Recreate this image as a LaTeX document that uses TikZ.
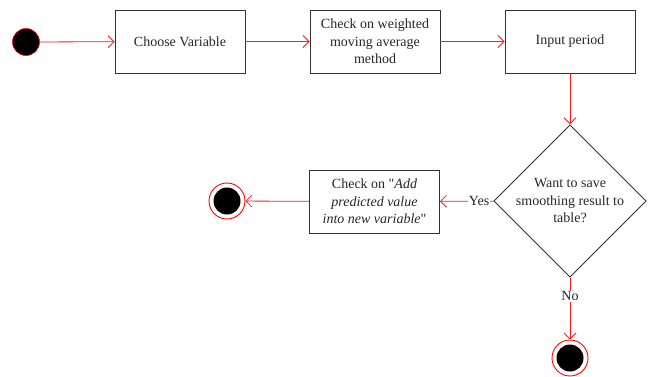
\documentclass[tikz,border=0pt]{standalone}
\usepackage{fontspec}
\setmainfont{Liberation Serif}
\newfontfamily\tms{Liberation Serif}
\usetikzlibrary{shapes.geometric,arrows.meta}
\begin{document}
\begin{tikzpicture}[x=1pt,y=-1pt,
  font=\tms\fontsize{14}{17.5}\selectfont,
  box/.style={draw=black!80,line width=0.9pt,rectangle,minimum width=130pt,minimum height=63pt,align=center,inner sep=2pt,text=black!85},
  dec/.style={draw=black!80,line width=0.9pt,diamond,minimum width=148pt,minimum height=144pt,align=center,inner sep=0pt,text=black!85},
  flow/.style={draw=red!90,line width=0.8pt,-{Straight Barb[length=6pt,width=12pt]}},
  startst/.style={circle,fill=black,draw=red,line width=0.6pt,minimum size=27pt,inner sep=0pt},
  endst/.style={circle,draw=red,line width=0.9pt,minimum size=36pt,inner sep=0pt,path picture={\fill[black] (path picture bounding box.center) circle (13.5pt);}},
  lbl/.style={fill=white,inner sep=1pt,text=black!85}
]
\useasboundingbox (0,0) rectangle (651,376);
\node[startst] (s) at (26,42) {};
\node[box] (b1) at (180,41.5) {Choose Variable};
\node[box] (b2) at (375,41.5) {Check on weighted\\moving average\\method};
\node[box] (b3) at (570,41.5) {Input period};
\node[dec] (d) at (570,201) {Want to save\\smoothing result to\\table?};
\node[box] (b4) at (374.5,201.5) {Check on {\char34}\textit{Add}\\\textit{predicted value}\\\textit{into new variable}{\char34}};
\node[endst] (e1) at (227,201) {};
\node[endst] (e2) at (570,358) {};
\draw[flow] (s) -- (b1);
\draw[flow] (b1) -- (b2);
\draw[flow] (b2) -- (b3);
\draw[flow] (b3) -- (d);
\draw[flow] (d) -- node[lbl,pos=0.27] {Yes} (b4);
\draw[flow] (b4) -- (e1);
\draw[flow] (d) -- node[lbl,pos=0.3] {No} (e2);
\end{tikzpicture}
\end{document}
